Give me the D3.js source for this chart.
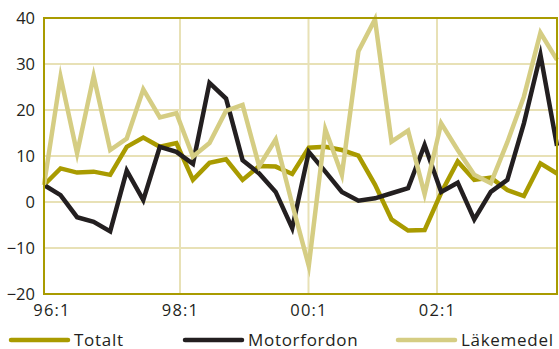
<!DOCTYPE html>
<html>
<head>
<meta charset="utf-8">
<script src="https://cdn.jsdelivr.net/npm/d3@7"></script>
<style>
  html, body { margin: 0; padding: 0; background: #ffffff; }
  svg { display: block; }
  text { font-family: "Open Sans", "Noto Sans", sans-serif; fill: #231f20; }
</style>
</head>
<body>
<script>
// Quarterly series, 96:1 – 03:4
const quarters = [
  "96:1","96:2","96:3","96:4","97:1","97:2","97:3","97:4",
  "98:1","98:2","98:3","98:4","99:1","99:2","99:3","99:4",
  "00:1","00:2","00:3","00:4","01:1","01:2","01:3","01:4",
  "02:1","02:2","02:3","02:4","03:1","03:2","03:3","03:4"
];
const totalt = [3.7, 7.3, 6.4, 6.6, 5.9, 12.0, 14.0, 12.0, 12.8, 4.8, 8.5, 9.3, 4.8, 7.8, 7.7, 6.1,
                11.8, 12.0, 11.3, 10.1, 3.8, -3.8, -6.2, -6.1, 2.0, 8.8, 4.8, 5.3, 2.6, 1.3, 8.4, 6.2];
const motorfordon = [3.7, 1.5, -3.3, -4.3, -6.4, 6.8, 0.4, 12.0, 10.9, 8.3, 25.9, 22.5, 9.1, 6.2, 2.2, -5.7,
                     10.9, 6.6, 2.2, 0.3, 0.8, 1.9, 3.0, 12.4, 2.2, 4.2, -3.8, 2.2, 4.8, 17.1, 32.0, 12.2];
const lakemedel = [3.7, 27.2, 10.6, 27.4, 11.3, 13.8, 24.5, 18.4, 19.3, 9.9, 12.8, 19.8, 21.1, 7.8, 13.6, -0.5,
                   -13.9, 15.8, 5.9, 32.8, 39.7, 13.1, 15.5, 1.7, 17.1, 11.3, 5.9, 4.1, 13.0, 22.9, 36.8, 30.9];
const seriesNames = ["Totalt", "Motorfordon", "Läkemedel"];
const yTicks = [-20, -10, 0, 10, 20, 30, 40];
const xTickLabels = ["96:1", "98:1", "00:1", "02:1"];

const colors = { "Totalt": "#a99b00", "Motorfordon": "#231f20", "Läkemedel": "#d5cd83" };
const gridColor = "#e8e1b6";

const W = 559, H = 349;
const plot = { left: 44, right: 557, top: 18, bottom: 294 };

const svg = d3.select("body").append("svg").attr("width", W).attr("height", H);

const x = d3.scaleLinear().domain([0, quarters.length - 1]).range([plot.left, plot.right]);
const y = d3.scaleLinear().domain([-20, 40]).range([plot.bottom, plot.top]);
// Year gridlines and labels sit on their own evenly spaced positions
const xTick = d3.scalePoint().domain(xTickLabels).range([51.5, 437]);

// Horizontal gridlines
svg.append("g").selectAll("line")
  .data(yTicks.filter(v => v > -20 && v < 40))
  .join("line")
  .attr("x1", plot.left).attr("x2", plot.right)
  .attr("y1", d => y(d)).attr("y2", d => y(d))
  .attr("stroke", gridColor).attr("stroke-width", 2);

// Vertical gridlines at year starts
svg.append("g").selectAll("line")
  .data(xTickLabels.slice(1))
  .join("line")
  .attr("x1", d => xTick(d)).attr("x2", d => xTick(d))
  .attr("y1", plot.top).attr("y2", plot.bottom)
  .attr("stroke", gridColor).attr("stroke-width", 2);

// Y axis labels
const yAxis = d3.axisLeft(y).tickValues(yTicks).tickSize(0).tickPadding(0);
const gy = svg.append("g").attr("transform", `translate(${plot.left - 9},0)`).call(yAxis);
gy.select(".domain").remove();
gy.selectAll("text").attr("font-size", 16.5).attr("font-family", null).attr("fill", "#231f20").attr("dy", "0.36em");

// X axis labels
const xAxis = d3.axisBottom(xTick).tickSize(0).tickPadding(0);
const gx = svg.append("g").attr("transform", `translate(0,${plot.bottom + 10})`).call(xAxis);
gx.select(".domain").remove();
gx.selectAll("text").attr("font-size", 16.5).attr("font-family", null).attr("fill", "#231f20")
  .attr("dy", "0.75em").attr("letter-spacing", 1.2);

// Series lines
const line = d3.line().x((d, i) => x(i)).y(d => y(d));
const data = { "Totalt": totalt, "Motorfordon": motorfordon, "Läkemedel": lakemedel };
seriesNames.forEach(name => {
  svg.append("path")
    .datum(data[name])
    .attr("d", line)
    .attr("fill", "none")
    .attr("stroke", colors[name])
    .attr("stroke-width", 4.5)
    .attr("stroke-linejoin", "miter")
    .attr("stroke-miterlimit", 10);
});

// Plot frame
svg.append("rect")
  .attr("x", plot.left).attr("y", plot.top)
  .attr("width", plot.right - plot.left).attr("height", plot.bottom - plot.top)
  .attr("fill", "none").attr("stroke", "#a99b00").attr("stroke-width", 2);

// Legend
const legendX = [11, 185, 398];
const lg = svg.append("g").selectAll("g").data(seriesNames).join("g")
  .attr("transform", (d, i) => `translate(${legendX[i]},340)`);
lg.append("line")
  .attr("x1", 0).attr("x2", 57).attr("y1", 0).attr("y2", 0)
  .attr("stroke", d => colors[d]).attr("stroke-width", 4.5).attr("stroke-linecap", "round");
lg.append("text")
  .attr("x", 63).attr("y", 5.5)
  .attr("font-size", 17)
  .attr("letter-spacing", 0.7)
  .text(d => d);
</script>
</body>
</html>
